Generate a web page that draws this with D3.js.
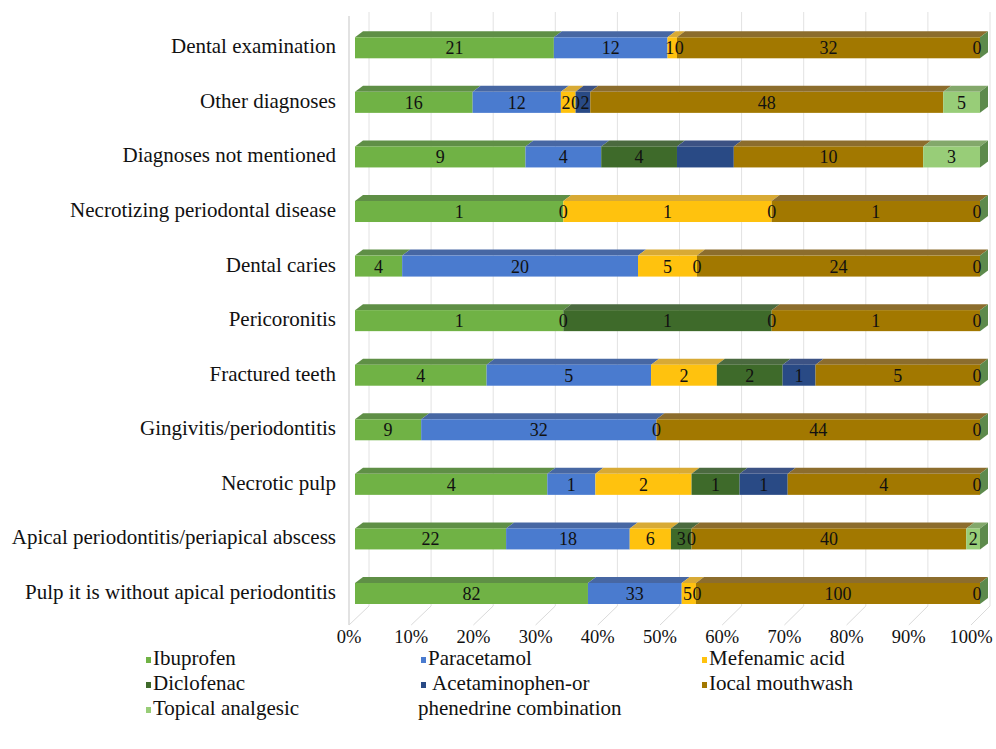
<!DOCTYPE html>
<html><head><meta charset="utf-8">
<script src="https://cdn.jsdelivr.net/npm/d3@7"></script>
<style>body{margin:0;background:#fff;}svg{display:block;}</style>
</head><body>
<script>
const categories = ["Dental examination","Other diagnoses","Diagnoses not mentioned","Necrotizing periodontal disease","Dental caries","Pericoronitis","Fractured teeth","Gingivitis/periodontitis","Necrotic pulp","Apical periodontitis/periapical abscess","Pulp it is without apical periodontitis"];
const seriesNames = ["Ibuprofen","Paracetamol","Mefenamic acid","Diclofenac","Acetaminophen-or phenedrine combination","Iocal mouthwash","Topical analgesic"];
const ibuprofen     = [21,16,9,1,4,1,4,9,4,22,82];
const paracetamol   = [12,12,4,0,20,0,5,32,1,18,33];
const mefenamic     = [1,2,0,1,5,0,2,0,2,6,5];
const diclofenac    = [0,0,4,0,0,1,2,0,1,3,0];
const acetaminophen = [0,2,3,0,0,0,1,0,1,0,0];
const mouthwash     = [32,48,10,1,24,1,5,44,4,40,100];
const topical       = [0,5,3,0,0,0,0,0,0,2,0];
// which segments carry a data label (1) in each category
const labelIbuprofen     = [1,1,1,1,1,1,1,1,1,1,1];
const labelParacetamol   = [1,1,1,1,1,1,1,1,1,1,1];
const labelMefenamic     = [1,1,0,1,1,0,1,1,1,1,1];
const labelDiclofenac    = [1,1,1,1,1,1,1,0,1,1,1];
const labelAcetaminophen = [0,1,0,0,0,1,1,0,1,1,0];
const labelMouthwash     = [1,1,1,1,1,1,1,1,1,1,1];
const labelTopical       = [1,1,1,1,1,1,1,1,1,1,1];
const ticks = ["0%","10%","20%","30%","40%","50%","60%","70%","80%","90%","100%"];

const seriesData = [ibuprofen,paracetamol,mefenamic,diclofenac,acetaminophen,mouthwash,topical];
const labelFlags = [labelIbuprofen,labelParacetamol,labelMefenamic,labelDiclofenac,labelAcetaminophen,labelMouthwash,labelTopical];
const front = ["#70b245","#4a7bcf","#ffc20e","#3e6a2a","#294a85","#a27800","#98cd78"];
const topC  = ["#5f8f46","#4767a3","#d8aa35","#4b6a3f","#3c5284","#8c6d2d","#83a86b"];
const sideC = "#5d8a4c";

const W=996,H=749;
const svg=d3.select("body").append("svg").attr("width",W).attr("height",H);
const serif="'Liberation Serif','Times New Roman',serif";

const xBar=d3.scaleLinear().domain([0,1]).range([355,980]);
const xBack=d3.scaleLinear().domain([0,1]).range([369,990]);
const xFloor=d3.scaleLinear().domain([0,1]).range([349,971]);
const y=d3.scalePoint().domain(categories).range([47.8,593.5]);
const wallTop=12, wallBottom=606, floorFront=625;
const bh=21, dx=8, dy=6;

const g=svg.append("g");
g.append("line").attr("x1",349).attr("x2",349).attr("y1",wallTop+4).attr("y2",floorFront)
  .attr("stroke","#d9d9d9").attr("stroke-width",1.5);
ticks.forEach((t,i)=>{
  const p=i/10;
  g.append("line").attr("x1",xBack(p)).attr("x2",xBack(p)).attr("y1",wallTop).attr("y2",wallBottom)
    .attr("stroke","#e2e2e2").attr("stroke-width",1);
  g.append("line").attr("x1",xBack(p)).attr("x2",xFloor(p)).attr("y1",wallBottom).attr("y2",floorFront)
    .attr("stroke","#dadada").attr("stroke-width",1);
  g.append("text").attr("x",xFloor(p)).attr("y",643).attr("text-anchor","middle")
    .attr("font-family",serif).attr("font-size",18.5).attr("fill","#111").text(t);
});

categories.forEach((c,ci)=>{
  const vals=seriesData.map(s=>s[ci]);
  const total=d3.sum(vals);
  const cy=y(c), y0=cy-bh/2;
  let acc=0;
  const segs=vals.map((v,si)=>{const s={si,v,a:acc/total,b:(acc+v)/total,lab:labelFlags[si][ci]}; acc+=v; return s;});
  const bg=svg.append("g");
  segs.forEach(s=>{
    if(s.v<=0) return;
    const x0=xBar(s.a), x1=xBar(s.b);
    bg.append("path").attr("d",`M${x0},${y0}L${x0+dx},${y0-dy}L${x1+dx},${y0-dy}L${x1},${y0}Z`).attr("fill",topC[s.si]);
    bg.append("rect").attr("x",x0).attr("y",y0).attr("width",x1-x0).attr("height",bh).attr("fill",front[s.si]);
  });
  const xe=xBar(1);
  bg.append("path").attr("d",`M${xe},${y0}L${xe+dx},${y0-dy}L${xe+dx},${y0+bh-dy}L${xe},${y0+bh}Z`).attr("fill",sideC);
  const labs=[];
  segs.forEach(s=>{
    if(!s.lab) return;
    let xm=(xBar(s.a)+xBar(s.b))/2;
    if(s.si===6 && s.v===0) xm-=3;
    const t=bg.append("text").attr("y",cy+6.5).attr("text-anchor","middle")
      .attr("font-family",serif).attr("font-size",18).attr("fill","#111").text(seriesData[s.si][ci]);
    labs.push({t,x:xm,w:t.node().getComputedTextLength()});
  });
  for(let it=0;it<20;it++){
    for(let k=1;k<labs.length;k++){
      const a=labs[k-1], b=labs[k];
      const ov=(a.x+a.w/2+0.5)-(b.x-b.w/2);
      if(ov>0){a.x-=ov/2;b.x+=ov/2;}
    }
  }
  labs.forEach(l=>l.t.attr("x",l.x));
  svg.append("text").attr("x",336).attr("y",cy+5.5).attr("text-anchor","end")
    .attr("font-family",serif).attr("font-size",21).attr("fill","#111").text(c);
});

const legend=[
  {s:0,x:146,y:660,lines:["Ibuprofen"]},
  {s:1,x:421,y:660,lines:["Paracetamol"]},
  {s:2,x:702,y:660,lines:["Mefenamic acid"]},
  {s:3,x:146,y:685,lines:["Diclofenac"]},
  {s:4,x:421,y:685,lines:[" Acetaminophen-or","phenedrine combination"]},
  {s:5,x:702,y:685,lines:["Iocal mouthwash"]},
  {s:6,x:146,y:710,lines:["Topical analgesic"]}
];
legend.forEach(l=>{
  svg.append("rect").attr("x",l.x).attr("y",l.y-3).attr("width",5).attr("height",6).attr("fill",front[l.s]);
  const t=svg.append("text").attr("font-family",serif).attr("font-size",21).attr("fill","#111")
    .attr("dominant-baseline","middle").attr("xml:space","preserve").style("white-space","pre");
  l.lines.forEach((ln,i)=>{
    t.append("tspan").attr("x",i===0?l.x+7:418).attr("y",l.y+i*25).text(ln);
  });
});
</script>
</body></html>
